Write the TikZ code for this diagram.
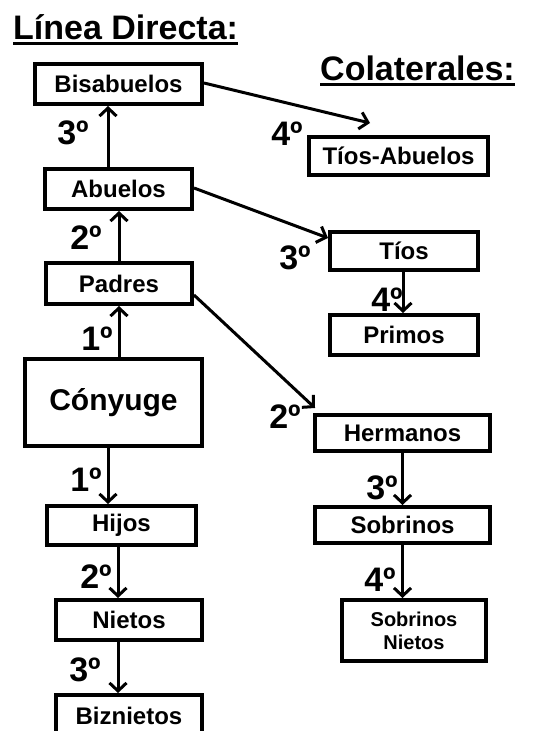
\documentclass[tikz,border=0pt]{standalone}
\usepackage{fontspec}
\setmainfont{Liberation Sans}
\usetikzlibrary{arrows.meta}
\begin{document}
\begin{tikzpicture}[x=1pt,y=-1pt,
  box/.style={draw,line width=4pt,rectangle,inner sep=0pt,align=center,font=\fontsize{24}{28}\selectfont\bfseries},
  conn/.style={line width=3pt,-{Straight Barb[length=8pt,width=17pt]}},
  deg/.style={inner sep=0pt,font=\fontsize{34}{40}\selectfont\bfseries},
  ttl/.style={inner sep=0pt,anchor=base west,font=\fontsize{34}{40}\selectfont\bfseries},
  uline/.style={line width=3pt}]
\useasboundingbox (0,0) rectangle (537,731);
\clip (0,0) rectangle (537,731);
% titles
\node[ttl] (t1) at (13,39) {Línea Directa:};
\draw[uline] ([yshift=-4.5pt]t1.base west) -- ([yshift=-4.5pt]t1.base east);
\node[ttl] (t2) at (320,80) {Colaterales:};
\draw[uline] ([yshift=-4.5pt]t2.base west) -- ([yshift=-4.5pt]t2.base east);
% direct line
\node[box,minimum width=167pt,minimum height=40pt] (bis) at (118.5,84) {Bisabuelos};
\node[box,minimum width=147pt,minimum height=40pt] (abu) at (118.5,189) {Abuelos};
\node[box,minimum width=146pt,minimum height=41pt] (pad) at (119,283.5) {Padres};
\node[box,minimum width=177pt,minimum height=87pt,font=\fontsize{30}{34}\selectfont\bfseries] (con) at (113.5,402.5) {Cónyuge};
\node[box,minimum width=149pt,minimum height=39pt] (hij) at (121.5,525.5) {Hijos};
\node[box,minimum width=146pt,minimum height=40pt] (nie) at (129,620) {Nietos};
\node[box,minimum width=146pt,minimum height=41pt] (biz) at (129,715.5) {Biznietos};
% collaterals
\node[box,minimum width=179pt,minimum height=38pt] (ta) at (398.5,156) {Tíos-Abuelos};
\node[box,minimum width=148pt,minimum height=38pt] (tio) at (404,251) {Tíos};
\node[box,minimum width=148pt,minimum height=40pt] (pri) at (404,335) {Primos};
\node[box,minimum width=175pt,minimum height=36pt] (her) at (402.5,433) {Hermanos};
\node[box,minimum width=175pt,minimum height=36pt] (sob) at (402.5,525) {Sobrinos};
\node[box,minimum width=144pt,minimum height=61pt,font=\fontsize{20}{23}\selectfont\bfseries] (sn) at (414,630.5) {Sobrinos\\Nietos};
\coordinate (taend) at (370,123);
% connectors
\draw[conn] ([xshift=-10.5pt]abu.north) -- ([xshift=-10.5pt]bis.south);
\draw[conn] (pad.north) -- (pad.north |- abu.south);
\draw[conn] (pad.south |- con.north) -- (pad.south);
\draw[conn] ([xshift=-5.5pt]con.south) -- ([xshift=-5.5pt]con.south |- hij.north);
\draw[conn] ([xshift=-3.5pt]hij.south) -- ([xshift=-3.5pt]hij.south |- nie.north);
\draw[conn] ([xshift=-11pt]nie.south) -- ([xshift=-11pt]nie.south |- biz.north);
\draw[conn] ([yshift=1pt]bis.east) -- (taend);
\draw[conn] ([yshift=1pt]abu.east) -- ([yshift=-8pt]tio.north west);
\draw[conn] ([yshift=-11.5pt]pad.east) -- ([xshift=2pt,yshift=5pt]her.north west);
\draw[conn] ([xshift=-1pt]tio.south) -- ([xshift=-1pt]tio.south |- pri.north);
\draw[conn] (her.south) -- (sob.north);
\draw[conn] (sob.south) -- (sob.south |- sn.north);
% degree labels
\node[deg] (d1) at (73,133) {3º};
\node[deg] (d2) at (86,238) {2º};
\node[deg] (d3) at (97,339) {1º};
\node[deg] (d4) at (86,480) {1º};
\node[deg] (d5) at (96,577) {2º};
\node[deg] (d6) at (85,670) {3º};
\node[deg] (d7) at (287,134) {4º};
\node[deg] (d8) at (295,258) {3º};
\node[deg] (d9) at (387,300) {4º};
\node[deg] (d10) at (285,417) {2º};
\node[deg] (d11) at (382,488) {3º};
\node[deg] (d12) at (380,580) {4º};
\end{tikzpicture}
\end{document}
